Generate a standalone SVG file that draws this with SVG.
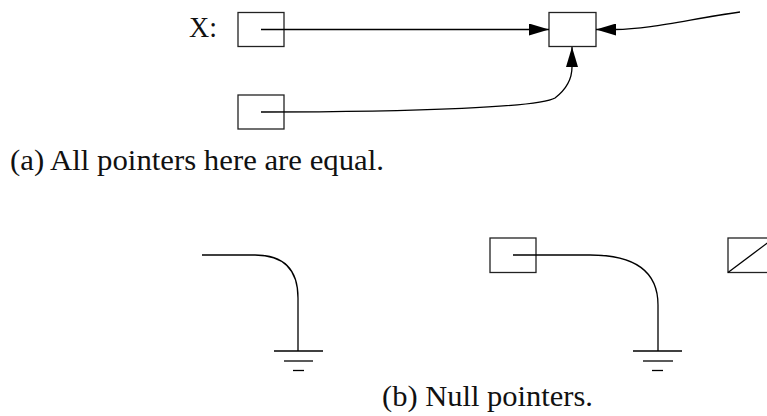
<svg xmlns="http://www.w3.org/2000/svg" width="767" height="416" viewBox="0 0 767 416">
<style>
.box{fill:#fff;stroke:#222;stroke-width:1.3}
.ln{fill:none;stroke:#000;stroke-width:1.3}
.txt{font-family:"Liberation Serif","DejaVu Serif",serif;font-size:29px;fill:#111}
</style>
<defs>
<marker id="ah" markerUnits="userSpaceOnUse" markerWidth="20" markerHeight="12" viewBox="0 0 20 12" refX="20" refY="6" orient="auto">
<path d="M0,0 L20,6 L0,12 Z" fill="#000"/>
</marker>
</defs>
<g id="label-x"><text class="txt" x="189" y="37" textLength="28" lengthAdjust="spacingAndGlyphs">X:</text></g>
<g id="box-x"><rect class="box" x="238" y="12.5" width="46" height="34"/></g>
<g id="box-target"><rect class="box" x="549" y="12.5" width="47" height="34"/></g>
<g id="box-2"><rect class="box" x="238" y="95" width="46" height="34"/></g>
<g id="caption-a"><text class="txt" x="10" y="170" textLength="374" lengthAdjust="spacingAndGlyphs">(a) All pointers here are equal.</text></g>
<g id="box-3"><rect class="box" x="490" y="238" width="46" height="34.5"/></g>
<g id="box-null"><rect class="box" x="728" y="238" width="46" height="34.5"/><line class="ln" x1="728" y1="272.5" x2="774" y2="238"/></g>
<g id="ground-1" class="ln">
<line x1="274" y1="351" x2="323" y2="351"/>
<line x1="284" y1="361" x2="313" y2="361"/>
<line x1="293" y1="370.5" x2="304" y2="370.5"/>
</g>
<g id="ground-2" class="ln">
<line x1="633" y1="351" x2="682" y2="351"/>
<line x1="643" y1="361" x2="673" y2="361"/>
<line x1="652" y1="370.5" x2="663" y2="370.5"/>
</g>
<g id="caption-b"><text class="txt" x="382" y="406" textLength="211" lengthAdjust="spacingAndGlyphs">(b) Null pointers.</text></g>
<g id="connectors">
<path class="ln" d="M261,29.5 L549,29.5" marker-end="url(#ah)"/>
<path class="ln" d="M740,12 C690,19 650,29.5 615,29.5 L596,29.5" marker-end="url(#ah)"/>
<path class="ln" d="M261,112 C420,112 540,107 555,98 C568,88 572,78 572,67 L572,47" marker-end="url(#ah)"/>
<path class="ln" d="M202,255 L255,255 C285,255 298,270 298,298 L298,351"/>
<path class="ln" d="M513,255 L590,255 C640,255 658,275 658,305 L658,351"/>
</g>
</svg>
